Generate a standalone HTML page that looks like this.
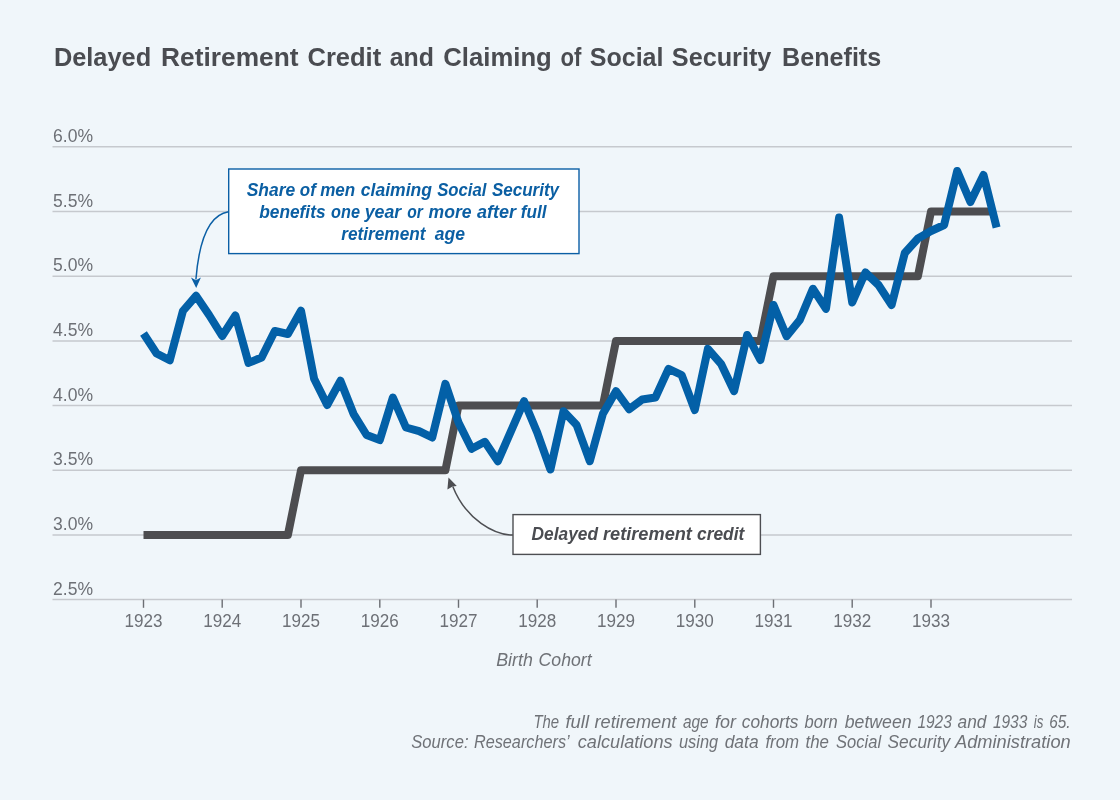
<!DOCTYPE html>
<html><head><meta charset="utf-8"><title>Chart</title>
<style>
html,body{margin:0;padding:0;background:#f0f6fa;}
body{width:1120px;height:800px;overflow:hidden;font-family:"Liberation Sans",sans-serif;}
svg{display:block;}
text{font-family:"Liberation Sans",sans-serif;}
.ax{font-size:18px;fill:#6d7076;}
.title{font-size:25px;font-weight:bold;fill:#4a4c51;}
.it{font-size:17.5px;font-style:italic;fill:#6f7277;}
.a1{font-size:18px;font-style:italic;font-weight:bold;fill:#0b5fa3;}
.a2{font-size:18px;font-style:italic;font-weight:bold;fill:#4a4c51;}
</style></head><body>
<svg style="will-change:transform" width="1120" height="800" viewBox="0 0 1120 800">
<rect width="1120" height="800" fill="#f0f6fa"/>
<text class="title" x="53.9" y="65.5" textLength="97.3" lengthAdjust="spacingAndGlyphs">Delayed</text><text class="title" x="161.1" y="65.5" textLength="137.4" lengthAdjust="spacingAndGlyphs">Retirement</text><text class="title" x="307.5" y="65.5" textLength="73.7" lengthAdjust="spacingAndGlyphs">Credit</text><text class="title" x="389.7" y="65.5" textLength="44.2" lengthAdjust="spacingAndGlyphs">and</text><text class="title" x="443.3" y="65.5" textLength="108.5" lengthAdjust="spacingAndGlyphs">Claiming</text><text class="title" x="560.4" y="65.5" textLength="20.9" lengthAdjust="spacingAndGlyphs">of</text><text class="title" x="589.8" y="65.5" textLength="73.7" lengthAdjust="spacingAndGlyphs">Social</text><text class="title" x="671.8" y="65.5" textLength="99.6" lengthAdjust="spacingAndGlyphs">Security</text><text class="title" x="782.1" y="65.5" textLength="99.1" lengthAdjust="spacingAndGlyphs">Benefits</text>
<line x1="52.5" x2="1072" y1="146.8" y2="146.8" stroke="#c6c9ce" stroke-width="1.5"/><line x1="52.5" x2="1072" y1="211.5" y2="211.5" stroke="#c6c9ce" stroke-width="1.5"/><line x1="52.5" x2="1072" y1="276.2" y2="276.2" stroke="#c6c9ce" stroke-width="1.5"/><line x1="52.5" x2="1072" y1="340.9" y2="340.9" stroke="#c6c9ce" stroke-width="1.5"/><line x1="52.5" x2="1072" y1="405.5" y2="405.5" stroke="#c6c9ce" stroke-width="1.5"/><line x1="52.5" x2="1072" y1="470.2" y2="470.2" stroke="#c6c9ce" stroke-width="1.5"/><line x1="52.5" x2="1072" y1="534.9" y2="534.9" stroke="#c6c9ce" stroke-width="1.5"/><line x1="52.5" x2="1072" y1="599.6" y2="599.6" stroke="#c6c9ce" stroke-width="1.5"/>
<text x="53" y="142.0" class="ax" textLength="40" lengthAdjust="spacingAndGlyphs">6.0%</text><text x="53" y="206.7" class="ax" textLength="40" lengthAdjust="spacingAndGlyphs">5.5%</text><text x="53" y="271.4" class="ax" textLength="40" lengthAdjust="spacingAndGlyphs">5.0%</text><text x="53" y="336.1" class="ax" textLength="40" lengthAdjust="spacingAndGlyphs">4.5%</text><text x="53" y="400.7" class="ax" textLength="40" lengthAdjust="spacingAndGlyphs">4.0%</text><text x="53" y="465.4" class="ax" textLength="40" lengthAdjust="spacingAndGlyphs">3.5%</text><text x="53" y="530.1" class="ax" textLength="40" lengthAdjust="spacingAndGlyphs">3.0%</text><text x="53" y="594.8" class="ax" textLength="40" lengthAdjust="spacingAndGlyphs">2.5%</text>
<line x1="143.5" x2="143.5" y1="599.6" y2="607.8" stroke="#6b6e73" stroke-width="1.4"/><line x1="222.2" x2="222.2" y1="599.6" y2="607.8" stroke="#6b6e73" stroke-width="1.4"/><line x1="301.0" x2="301.0" y1="599.6" y2="607.8" stroke="#6b6e73" stroke-width="1.4"/><line x1="379.8" x2="379.8" y1="599.6" y2="607.8" stroke="#6b6e73" stroke-width="1.4"/><line x1="458.5" x2="458.5" y1="599.6" y2="607.8" stroke="#6b6e73" stroke-width="1.4"/><line x1="537.2" x2="537.2" y1="599.6" y2="607.8" stroke="#6b6e73" stroke-width="1.4"/><line x1="616.0" x2="616.0" y1="599.6" y2="607.8" stroke="#6b6e73" stroke-width="1.4"/><line x1="694.8" x2="694.8" y1="599.6" y2="607.8" stroke="#6b6e73" stroke-width="1.4"/><line x1="773.5" x2="773.5" y1="599.6" y2="607.8" stroke="#6b6e73" stroke-width="1.4"/><line x1="852.2" x2="852.2" y1="599.6" y2="607.8" stroke="#6b6e73" stroke-width="1.4"/><line x1="931.0" x2="931.0" y1="599.6" y2="607.8" stroke="#6b6e73" stroke-width="1.4"/>
<text x="124.5" y="627.3" class="ax" textLength="38" lengthAdjust="spacingAndGlyphs">1923</text><text x="203.2" y="627.3" class="ax" textLength="38" lengthAdjust="spacingAndGlyphs">1924</text><text x="282.0" y="627.3" class="ax" textLength="38" lengthAdjust="spacingAndGlyphs">1925</text><text x="360.8" y="627.3" class="ax" textLength="38" lengthAdjust="spacingAndGlyphs">1926</text><text x="439.5" y="627.3" class="ax" textLength="38" lengthAdjust="spacingAndGlyphs">1927</text><text x="518.2" y="627.3" class="ax" textLength="38" lengthAdjust="spacingAndGlyphs">1928</text><text x="597.0" y="627.3" class="ax" textLength="38" lengthAdjust="spacingAndGlyphs">1929</text><text x="675.8" y="627.3" class="ax" textLength="38" lengthAdjust="spacingAndGlyphs">1930</text><text x="754.5" y="627.3" class="ax" textLength="38" lengthAdjust="spacingAndGlyphs">1931</text><text x="833.2" y="627.3" class="ax" textLength="38" lengthAdjust="spacingAndGlyphs">1932</text><text x="912.0" y="627.3" class="ax" textLength="38" lengthAdjust="spacingAndGlyphs">1933</text>
<path d="M143.5,534.9 L156.6,534.9 L169.8,534.9 L182.9,534.9 L196.0,534.9 L209.1,534.9 L222.2,534.9 L235.4,534.9 L248.5,534.9 L261.6,534.9 L274.8,534.9 L287.9,534.9 L301.0,470.2 L314.1,470.2 L327.2,470.2 L340.4,470.2 L353.5,470.2 L366.6,470.2 L379.8,470.2 L392.9,470.2 L406.0,470.2 L419.1,470.2 L432.2,470.2 L445.4,470.2 L458.5,405.5 L471.6,405.5 L484.8,405.5 L497.9,405.5 L511.0,405.5 L524.1,405.5 L537.2,405.5 L550.4,405.5 L563.5,405.5 L576.6,405.5 L589.8,405.5 L602.9,405.5 L616.0,340.9 L629.1,340.9 L642.2,340.9 L655.4,340.9 L668.5,340.9 L681.6,340.9 L694.8,340.9 L707.9,340.9 L721.0,340.9 L734.1,340.9 L747.2,340.9 L760.4,340.9 L773.5,276.2 L786.6,276.2 L799.8,276.2 L812.9,276.2 L826.0,276.2 L839.1,276.2 L852.2,276.2 L865.4,276.2 L878.5,276.2 L891.6,276.2 L904.8,276.2 L917.9,276.2 L931.0,211.5 L944.1,211.5 L957.2,211.5 L970.4,211.5 L983.5,211.5 L992.0,211.5" fill="none" stroke="#4d4d50" stroke-width="8" stroke-linejoin="round"/>
<path d="M143.5,333.5 L156.6,353.5 L169.8,360.3 L182.9,311.0 L196.0,295.8 L209.1,315.0 L222.2,336.0 L235.4,315.5 L248.5,362.9 L261.6,357.5 L274.8,331.0 L287.9,334.0 L301.0,310.8 L314.1,378.8 L327.2,405.0 L340.4,380.8 L353.5,413.8 L366.6,435.0 L379.8,440.0 L392.9,397.5 L406.0,427.5 L419.1,431.2 L432.2,437.5 L445.4,383.8 L458.5,422.5 L471.6,448.8 L484.8,441.8 L497.9,461.2 L511.0,431.2 L524.1,401.2 L537.2,432.5 L550.4,469.5 L563.5,411.2 L576.6,425.0 L589.8,461.2 L602.9,413.8 L616.0,391.2 L629.1,409.2 L642.2,399.5 L655.4,397.5 L668.5,368.8 L681.6,375.0 L694.8,410.0 L707.9,348.8 L721.0,363.8 L734.1,391.2 L747.2,335.0 L760.4,360.0 L773.5,305.0 L786.6,336.2 L799.8,320.0 L812.9,288.8 L826.0,308.8 L839.1,217.5 L852.2,302.5 L865.4,272.5 L878.5,285.0 L891.6,305.0 L904.8,253.0 L917.9,238.5 L931.0,231.0 L944.1,225.0 L957.2,171.0 L970.4,202.0 L983.5,175.0 L996.6,227.5" fill="none" stroke="#0360a7" stroke-width="8" stroke-linejoin="round"/>
<!-- annotation 1 -->
<path d="M228.5,211.7 Q201,216 195.9,279.5" fill="none" stroke="#0b5fa5" stroke-width="1.5"/>
<path d="M196.2,288 L191,277.6 L195.9,280.2 L200.9,277.6 Z" fill="#0b5fa5"/>
<rect x="228.7" y="169" width="350.3" height="84.6" fill="#fff" stroke="#0b5fa5" stroke-width="1.4"/>
<text class="a1" x="246.7" y="196.4" textLength="48.5" lengthAdjust="spacingAndGlyphs">Share</text><text class="a1" x="299.8" y="196.4" textLength="16.0" lengthAdjust="spacingAndGlyphs">of</text><text class="a1" x="320.2" y="196.4" textLength="35.1" lengthAdjust="spacingAndGlyphs">men</text><text class="a1" x="360.8" y="196.4" textLength="71.2" lengthAdjust="spacingAndGlyphs">claiming</text><text class="a1" x="437.2" y="196.4" textLength="49.2" lengthAdjust="spacingAndGlyphs">Social</text><text class="a1" x="491.9" y="196.4" textLength="67.2" lengthAdjust="spacingAndGlyphs">Security</text><text class="a1" x="259.2" y="218.1" textLength="66.4" lengthAdjust="spacingAndGlyphs">benefits</text><text class="a1" x="331.1" y="218.1" textLength="28.9" lengthAdjust="spacingAndGlyphs">one</text><text class="a1" x="364.7" y="218.1" textLength="36.6" lengthAdjust="spacingAndGlyphs">year</text><text class="a1" x="407.2" y="218.1" textLength="15.6" lengthAdjust="spacingAndGlyphs">or</text><text class="a1" x="428.6" y="218.1" textLength="43.0" lengthAdjust="spacingAndGlyphs">more</text><text class="a1" x="477" y="218.1" textLength="39.1" lengthAdjust="spacingAndGlyphs">after</text><text class="a1" x="520.8" y="218.1" textLength="25.8" lengthAdjust="spacingAndGlyphs">full</text><text class="a1" x="341.25" y="239.6" textLength="84.2" lengthAdjust="spacingAndGlyphs">retirement</text><text class="a1" x="434.8" y="239.6" textLength="30.2" lengthAdjust="spacingAndGlyphs">age</text>
<!-- annotation 2 -->
<path d="M512.8,535 C495,535 466,520 452.8,486.5" fill="none" stroke="#4d4e52" stroke-width="1.5"/>
<path d="M448.5,477.5 L447.4,489.6 L452.6,486.6 L456.8,486 Z" fill="#4d4e52"/>
<rect x="513" y="514.6" width="247.4" height="39.8" fill="#fff" stroke="#4d4e52" stroke-width="1.4"/>
<text class="a2" x="531.6" y="539.8" textLength="66.5" lengthAdjust="spacingAndGlyphs">Delayed</text><text class="a2" x="603" y="539.8" textLength="88.9" lengthAdjust="spacingAndGlyphs">retirement</text><text class="a2" x="697" y="539.8" textLength="47.3" lengthAdjust="spacingAndGlyphs">credit</text>
<!-- footer -->
<text class="it" x="496.2" y="665.6" textLength="36.6" lengthAdjust="spacingAndGlyphs">Birth</text><text class="it" x="538.6" y="665.6" textLength="53.0" lengthAdjust="spacingAndGlyphs">Cohort</text>
<text class="it" x="533.4" y="728" textLength="25.7" lengthAdjust="spacingAndGlyphs">The</text><text class="it" x="565.5" y="728" textLength="23.5" lengthAdjust="spacingAndGlyphs">full</text><text class="it" x="594.5" y="728" textLength="81.9" lengthAdjust="spacingAndGlyphs">retirement</text><text class="it" x="682.9" y="728" textLength="25.7" lengthAdjust="spacingAndGlyphs">age</text><text class="it" x="715" y="728" textLength="20.9" lengthAdjust="spacingAndGlyphs">for</text><text class="it" x="741.8" y="728" textLength="56.7" lengthAdjust="spacingAndGlyphs">cohorts</text><text class="it" x="804.6" y="728" textLength="33.1" lengthAdjust="spacingAndGlyphs">born</text><text class="it" x="844.8" y="728" textLength="66.8" lengthAdjust="spacingAndGlyphs">between</text><text class="it" x="917.4" y="728" textLength="34.4" lengthAdjust="spacingAndGlyphs">1923</text><text class="it" x="957.6" y="728" textLength="28.9" lengthAdjust="spacingAndGlyphs">and</text><text class="it" x="992.9" y="728" textLength="34.4" lengthAdjust="spacingAndGlyphs">1933</text><text class="it" x="1033.8" y="728" textLength="9.6" lengthAdjust="spacingAndGlyphs">is</text><text class="it" x="1049.2" y="728" textLength="21.4" lengthAdjust="spacingAndGlyphs">65.</text>
<text class="it" x="411.3" y="747.9" textLength="57.2" lengthAdjust="spacingAndGlyphs">Source:</text><text class="it" x="473.9" y="747.9" textLength="95.8" lengthAdjust="spacingAndGlyphs">Researchers’</text><text class="it" x="577.8" y="747.9" textLength="94.8" lengthAdjust="spacingAndGlyphs">calculations</text><text class="it" x="679" y="747.9" textLength="39.2" lengthAdjust="spacingAndGlyphs">using</text><text class="it" x="724.7" y="747.9" textLength="33.9" lengthAdjust="spacingAndGlyphs">data</text><text class="it" x="765.4" y="747.9" textLength="33.7" lengthAdjust="spacingAndGlyphs">from</text><text class="it" x="805.5" y="747.9" textLength="23.5" lengthAdjust="spacingAndGlyphs">the</text><text class="it" x="836.1" y="747.9" textLength="45.0" lengthAdjust="spacingAndGlyphs">Social</text><text class="it" x="887.5" y="747.9" textLength="62.7" lengthAdjust="spacingAndGlyphs">Security</text><text class="it" x="955" y="747.9" textLength="115.7" lengthAdjust="spacingAndGlyphs">Administration</text>
</svg>
</body></html>
